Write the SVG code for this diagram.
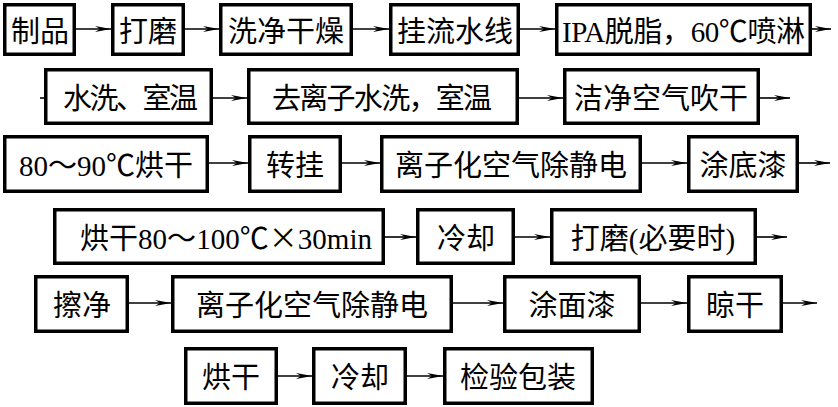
<svg xmlns="http://www.w3.org/2000/svg" width="838" height="407" viewBox="0 0 838 407">
<style>
.b rect{fill:#fff;stroke:#000;stroke-width:3.5}
text{font-family:"Liberation Serif","Noto Sans CJK SC",serif;font-size:29px;fill:#000;text-anchor:middle}
.cjk{font-family:"Noto Sans CJK SC",sans-serif}
.c line{stroke:#000;stroke-width:1.6;marker-end:url(#ah)}
.c line.t{marker-end:none}
</style>
<defs>
<marker id="ah" markerUnits="userSpaceOnUse" markerWidth="17" markerHeight="8" refX="16" refY="3.5" orient="auto">
<path d="M0,0.5 L16,3.5 L0,6.5 L5,3.5 z" fill="#000"/>
</marker>
</defs>
<rect width="838" height="407" fill="#fff"/>
<g class="c">
<line x1="76" y1="29" x2="111" y2="29"/>
<line x1="185" y1="29" x2="219" y2="29"/>
<line x1="353" y1="29" x2="389" y2="29"/>
<line x1="520" y1="29" x2="555" y2="29"/>
<line x1="812" y1="29" x2="831" y2="29"/>
<line class="t" x1="40" y1="98" x2="45" y2="98"/>
<line x1="213" y1="98" x2="247" y2="98"/>
<line x1="519" y1="98" x2="563" y2="98"/>
<line x1="760" y1="98" x2="790" y2="98"/>
<line x1="209" y1="163" x2="248" y2="163"/>
<line x1="342" y1="163" x2="380" y2="163"/>
<line x1="642" y1="163" x2="687" y2="163"/>
<line x1="799" y1="163" x2="830" y2="163"/>
<line x1="385" y1="237" x2="416" y2="237"/>
<line x1="515" y1="237" x2="550" y2="237"/>
<line x1="757" y1="237" x2="787" y2="237"/>
<line x1="129" y1="303" x2="171" y2="303"/>
<line x1="453" y1="303" x2="503" y2="303"/>
<line x1="641" y1="303" x2="687" y2="303"/>
<line x1="783" y1="303" x2="817" y2="303"/>
<line x1="278" y1="376" x2="312" y2="376"/>
<line x1="407" y1="376" x2="443" y2="376"/>
</g>
<g class="b">
<g id="n1"><rect x="4.75" y="4.75" width="69.5" height="49.5"/><text x="40" y="42">制品</text></g>
<g id="n2"><rect x="112.75" y="4.75" width="70.5" height="49.5"/><text x="148" y="42">打磨</text></g>
<g id="n3"><rect x="220.75" y="4.75" width="130.5" height="49.5"/><text x="286" y="42">洗净干燥</text></g>
<g id="n4"><rect x="390.75" y="4.75" width="127.5" height="49.5"/><text x="455" y="42">挂流水线</text></g>
<g id="n5"><rect x="556.75" y="4.75" width="253.5" height="49.5"/><text x="683.5" y="42" textLength="243" lengthAdjust="spacing">IPA脱脂，60℃喷淋</text></g>
<g id="n6"><rect x="45.75" y="69.75" width="165.5" height="53.5"/><text x="130.5" y="109" textLength="135" lengthAdjust="spacing">水洗、室温</text></g>
<g id="n7"><rect x="248.75" y="69.75" width="268.5" height="53.5"/><text x="382" y="109" textLength="220" lengthAdjust="spacing">去离子水洗，室温</text></g>
<g id="n8"><rect x="564.75" y="69.75" width="193.5" height="53.5"/><text x="661" y="109">洁净空气吹干</text></g>
<g id="n9"><rect x="4.75" y="136.75" width="202.5" height="54.5"/><text x="106" y="176">80～90℃烘干</text></g>
<g id="n10"><rect x="249.75" y="136.75" width="90.5" height="54.5"/><text x="295" y="176">转挂</text></g>
<g id="n11"><rect x="381.75" y="136.75" width="258.5" height="54.5"/><text x="511" y="176">离子化空气除静电</text></g>
<g id="n12"><rect x="688.75" y="136.75" width="108.5" height="54.5"/><text x="743" y="176">涂底漆</text></g>
<g id="n13"><rect x="54.75" y="209.75" width="328.5" height="53.5"/><text x="226" y="249" textLength="292" lengthAdjust="spacing">烘干80～100℃<tspan class="cjk">×</tspan>30min</text></g>
<g id="n14"><rect x="417.75" y="209.75" width="95.5" height="53.5"/><text x="466" y="249">冷却</text></g>
<g id="n15"><rect x="551.75" y="209.75" width="203.5" height="53.5"/><text x="653" y="249">打磨(必要时)</text></g>
<g id="n16"><rect x="35.75" y="276.75" width="91.5" height="54.5"/><text x="82" y="316">擦净</text></g>
<g id="n17"><rect x="172.75" y="276.75" width="278.5" height="54.5"/><text x="312" y="316">离子化空气除静电</text></g>
<g id="n18"><rect x="504.75" y="276.75" width="134.5" height="54.5"/><text x="572" y="316">涂面漆</text></g>
<g id="n19"><rect x="688.75" y="276.75" width="92.5" height="54.5"/><text x="735" y="316">晾干</text></g>
<g id="n20"><rect x="185.75" y="348.75" width="90.5" height="54.5"/><text x="231" y="388">烘干</text></g>
<g id="n21"><rect x="313.75" y="348.75" width="91.5" height="54.5"/><text x="360" y="388">冷却</text></g>
<g id="n22"><rect x="444.75" y="348.75" width="147.5" height="54.5"/><text x="518" y="388">检验包装</text></g>
</g>
</svg>
